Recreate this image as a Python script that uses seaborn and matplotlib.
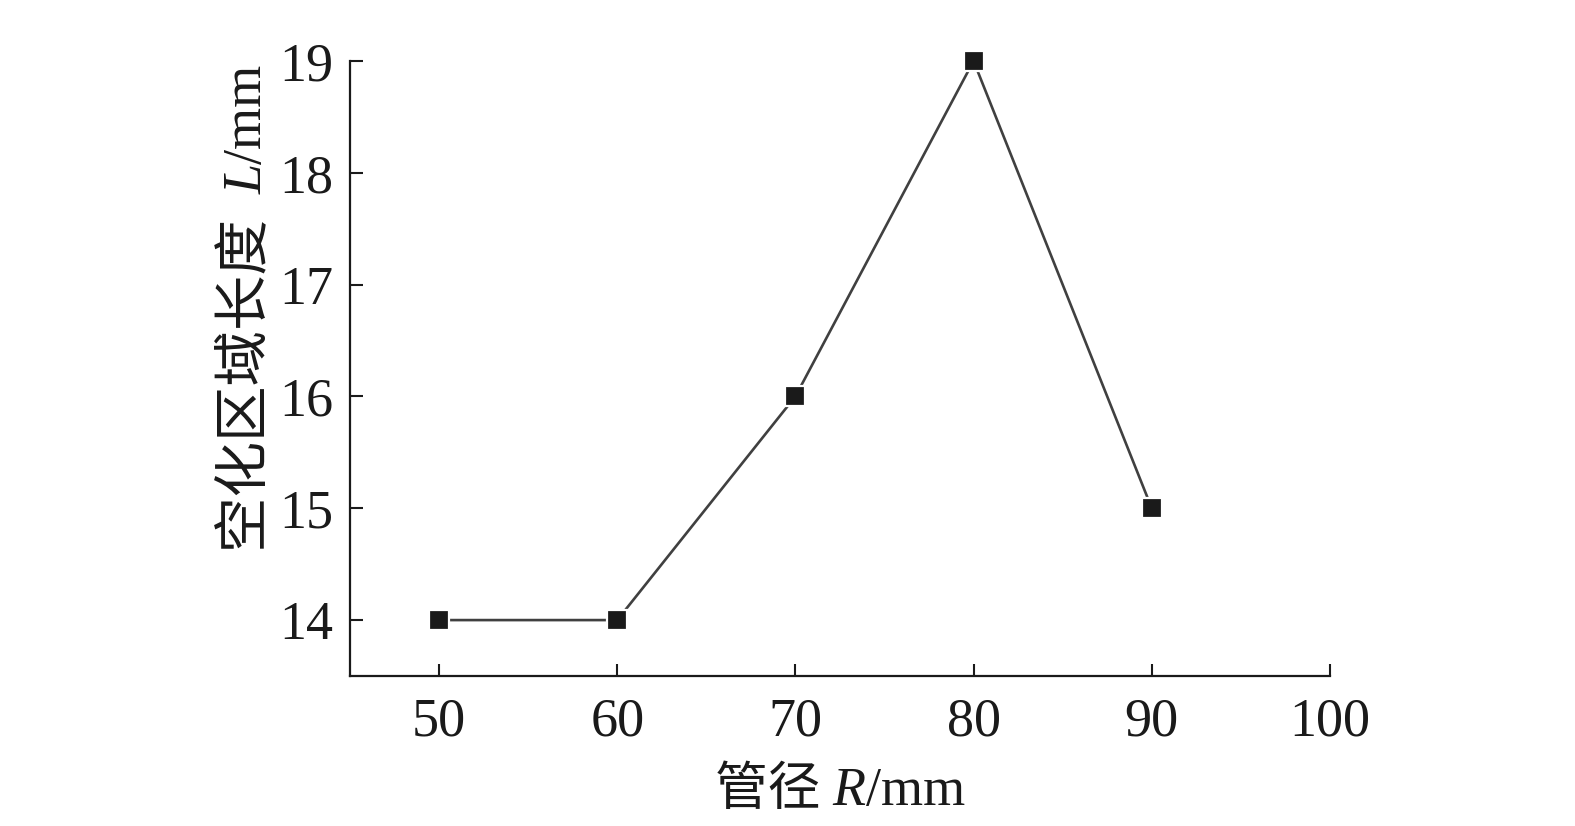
import matplotlib
matplotlib.use("Agg")
import matplotlib.pyplot as plt
import seaborn as sns
import pandas as pd

# pipe diameter R (mm) vs cavitation length L (mm)
pipe_r = [50, 60, 70, 80, 90]
cav_len = [14, 14, 16, 19, 15]
x_ticks = [50, 60, 70, 80, 90, 100]
y_ticks = [14, 15, 16, 17, 18, 19]

sns.set_theme(style="ticks")
plt.rcParams['font.family'] = ['Liberation Serif', 'Noto Sans CJK SC']

ink = "#1a1a1a"
df = pd.DataFrame({"R": pipe_r, "L": cav_len})

fig = plt.figure(figsize=(15.75, 8.26), dpi=100)
ax = fig.add_axes([0.2222, 0.1816, 0.6222, 0.7446])

sns.lineplot(data=df, x="R", y="L", ax=ax, color="#404040", linewidth=1.9,
             marker="s", markersize=14, markerfacecolor=ink,
             markeredgecolor="white", markeredgewidth=1.6, clip_on=False)

ax.set_xlim(45, 100)
ax.set_ylim(13.5, 19)
ax.set_xticks(x_ticks)
ax.set_yticks(y_ticks)
ax.tick_params(direction="in", length=9, width=1.5, labelsize=39, pad=12,
               colors=ink)
ax.tick_params(axis="x", pad=15)
for s in ["top", "right"]:
    ax.spines[s].set_visible(False)
for s in ["left", "bottom"]:
    ax.spines[s].set_linewidth(1.6)
    ax.spines[s].set_color(ink)
ax.set_xlabel("")
ax.set_ylabel("")

# axis labels: CJK part + italic symbol + unit, chained along the baseline
fs = 38
lat = 39
cjk = ['Noto Sans CJK SC']
xb, yb = 0.454, 0.026
t1 = fig.text(xb, yb, "管径 ", family=cjk, fontsize=fs, color=ink,
              ha="left", va="baseline")
t2 = ax.annotate("R", xy=(1, yb), xycoords=(t1, "figure fraction"),
                 fontsize=lat, style="italic", color=ink,
                 ha="left", va="baseline")
ax.annotate("/mm", xy=(1, yb), xycoords=(t2, "figure fraction"),
            fontsize=lat, color=ink, ha="left", va="baseline")

yx, yy = 0.166, 0.332
s1 = fig.text(yx, yy, "空化区域长度  ", family=cjk, fontsize=40, color=ink,
              rotation=90, rotation_mode="anchor", ha="left", va="baseline")
s2 = ax.annotate("L", xy=(yx, 1), xycoords=("figure fraction", s1),
                 fontsize=lat, style="italic", color=ink, rotation=90,
                 rotation_mode="anchor", ha="left", va="baseline")
ax.annotate("/mm", xy=(yx, 1), xycoords=("figure fraction", s2),
            fontsize=lat, color=ink, rotation=90,
            rotation_mode="anchor", ha="left", va="baseline")

fig.savefig("out.png", dpi=100)
